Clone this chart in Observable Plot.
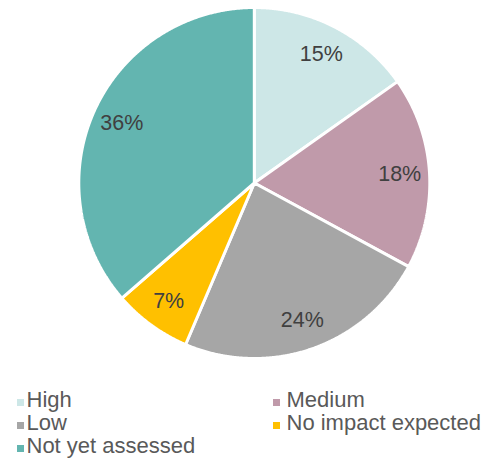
<!DOCTYPE html>
<html>
<head>
<meta charset="utf-8">
<script src="https://cdn.jsdelivr.net/npm/d3@7"></script>
<script src="https://cdn.jsdelivr.net/npm/@observablehq/plot@0.6"></script>
<style>
  body { margin: 0; background: #fff; font-family: "Liberation Sans", Arial, sans-serif; }
  #wrap { position: relative; width: 486px; height: 462px; }
  .sw { position: absolute; width: 7px; height: 7px; }
  .lt { position: absolute; font-size: 22px; line-height: 24px; color: #595959; white-space: nowrap; }
</style>
</head>
<body>
<div id="wrap"></div>
<script>
const categories = ["High", "Medium", "Low", "No impact expected", "Not yet assessed"];
const shares = [15.2, 17.7, 23.5, 7.2, 36.4];
const labels = ["15%", "18%", "24%", "7%", "36%"];
const colors = ["#cde7e7", "#c09aaa", "#a6a6a6", "#ffc000", "#63b5b0"];

const data = categories.map((c, i) => ({cat: c, share: shares[i], label: labels[i]}));
const arcs = d3.pie().sort(null).value(d => d.share)(data);

// polygon points in unit-circle coordinates (angle 0 at top, clockwise)
const pts = [];
for (const a of arcs) {
  pts.push({cat: a.data.cat, x: 0, y: 0});
  const n = Math.max(2, Math.ceil((a.endAngle - a.startAngle) / 0.005));
  for (let k = 0; k <= n; k++) {
    const t = a.startAngle + (a.endAngle - a.startAngle) * k / n;
    pts.push({cat: a.data.cat, x: Math.sin(t), y: Math.cos(t)});
  }
}
const labelR = 0.83;
const labs = arcs.map(a => {
  const m = (a.startAngle + a.endAngle) / 2;
  return {label: a.data.label, x: Math.sin(m) * labelR, y: Math.cos(m) * labelR};
});

const cx = 253.8, cy = 182.5, R = 175.5;
const chart = Plot.plot({
  width: 486,
  height: 380,
  margin: 0,
  x: {domain: [-1, 1], range: [cx - R, cx + R], axis: null},
  y: {domain: [-1, 1], range: [cy + R, cy - R], axis: null},
  color: {domain: categories, range: colors},
  style: {fontFamily: "Liberation Sans, Arial, sans-serif", background: "white"},
  marks: [
    Plot.line(pts, {x: "x", y: "y", z: "cat", fill: "cat", stroke: "white", strokeWidth: 3, strokeLinejoin: "miter", curve: "linear-closed"}),
    Plot.text(labs, {x: "x", y: "y", text: "label", fontSize: 21.5, fill: "#404040"})
  ]
});
const wrap = document.getElementById("wrap");
wrap.appendChild(chart);

// legend
const color = chart.scale("color");
const swX = [17, 272.5];
const txtX = [26.5, 286.5];
categories.forEach((c, i) => {
  const row = Math.floor(i / 2), col = i % 2;
  const sw = document.createElement("div");
  sw.className = "sw";
  sw.style.left = swX[col] + "px";
  sw.style.top = (398.5 + 23 * row) + "px";
  sw.style.background = color.apply(c);
  wrap.appendChild(sw);
  const t = document.createElement("div");
  t.className = "lt";
  t.style.left = txtX[col] + "px";
  t.style.top = (387.5 + 23 * row) + "px";
  t.textContent = c;
  wrap.appendChild(t);
});
</script>
</body>
</html>
